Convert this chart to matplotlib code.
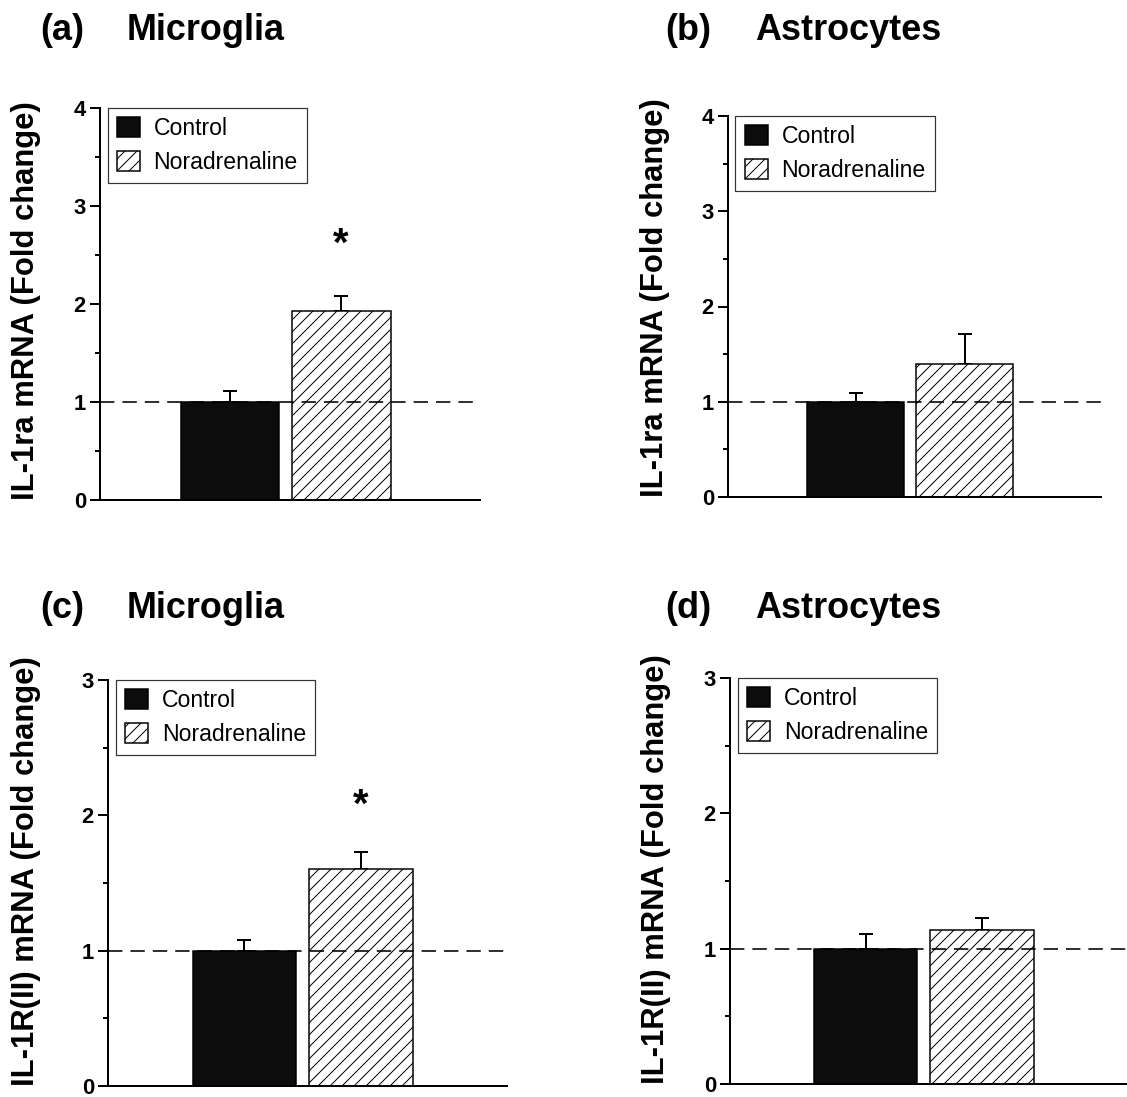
import numpy as np
import matplotlib.pyplot as plt

plt.rcParams['font.family'] = ['Liberation Sans', 'DejaVu Sans']
plt.rcParams['hatch.linewidth'] = 1.0
plt.rcParams['hatch.color'] = 'black'

W, H = 1127, 1097

groups = ['Control', 'Noradrenaline']
panel_tags = ['(a)', '(b)', '(c)', '(d)']
cell_types = ['Microglia', 'Astrocytes', 'Microglia', 'Astrocytes']
ylabels = ['IL-1ra mRNA (Fold change)', 'IL-1ra mRNA (Fold change)',
           'IL-1R(II) mRNA (Fold change)', 'IL-1R(II) mRNA (Fold change)']
means = [[1.0, 1.93], [1.0, 1.40], [1.0, 1.60], [1.0, 1.14]]
sems = [[0.11, 0.15], [0.09, 0.31], [0.08, 0.13], [0.11, 0.09]]
ymax = [4, 4, 3, 3]
star_y = [2.6, None, 2.07, None]

# axes boxes in pixels: left, right, top, bottom
boxes = [(100, 480, 108, 500), (728, 1101, 116, 497),
         (108, 507, 680, 1086), (730, 1127, 678, 1084)]
title_pos = [(40, 127, 40), (665, 755, 40), (40, 127, 618), (665, 755, 618)]
ylab_x = [26, 655, 26, 656]

fig = plt.figure(figsize=(W / 72, H / 72), dpi=72)

for i in range(4):
    l, r, t, b = boxes[i]
    ax = fig.add_axes([l / W, 1 - b / H, (r - l) / W, (b - t) / H])
    x = np.arange(len(groups))
    bars = ax.bar(x, means[i], width=0.89, color=['#0c0c0c', 'white'],
                  edgecolor='black', linewidth=1.5, hatch=['', '//'], zorder=2)
    for j, bar in enumerate(bars):
        bar.set_label(groups[j])
        ax.errorbar(x[j], means[i][j], yerr=[[0], [sems[i][j]]], fmt='none',
                    ecolor='black', elinewidth=2, capsize=7, capthick=2, zorder=1)
    ax.axhline(1, color='black', lw=1.6, dashes=(9, 5), zorder=3)
    if star_y[i] is not None:
        ax.text(x[1], star_y[i], '*', ha='center', va='center',
                fontsize=40, fontweight='bold')

    ax.set_xlim(-1.17, 2.25)
    ax.set_ylim(0, ymax[i])
    ax.set_yticks(np.arange(0, ymax[i] + 1))
    ax.set_yticks(np.arange(0.5, ymax[i], 1), minor=True)
    ax.set_xticks([])
    for side in ['top', 'right']:
        ax.spines[side].set_visible(False)
    for side in ['left', 'bottom']:
        ax.spines[side].set_linewidth(2)
    ax.tick_params(axis='y', which='major', length=10, width=2, pad=4,
                   labelsize=22)
    ax.tick_params(axis='y', which='minor', length=5, width=2)
    for lab in ax.get_yticklabels():
        lab.set_fontweight('bold')

    leg = ax.legend(handles=list(bars), loc='upper left', bbox_to_anchor=(0.02, 1.0),
                    borderaxespad=0, fontsize=23, frameon=True, fancybox=False,
                    handlelength=1.0, handleheight=0.95, handletextpad=0.6,
                    labelspacing=0.45, borderpad=0.4)
    leg.get_frame().set_edgecolor('black')
    leg.get_frame().set_linewidth(1.2)

    tx, nx, by = title_pos[i]
    fig.text(tx / W, 1 - by / H, panel_tags[i], fontsize=36, fontweight='bold',
             va='baseline', ha='left')
    fig.text(nx / W, 1 - by / H, cell_types[i], fontsize=36, fontweight='bold',
             va='baseline', ha='left')
    fig.text(ylab_x[i] / W, 1 - b / H, ylabels[i], rotation=90, fontsize=31,
             fontweight='bold', ha='center', va='bottom')

fig.savefig('out.png', dpi=72)
